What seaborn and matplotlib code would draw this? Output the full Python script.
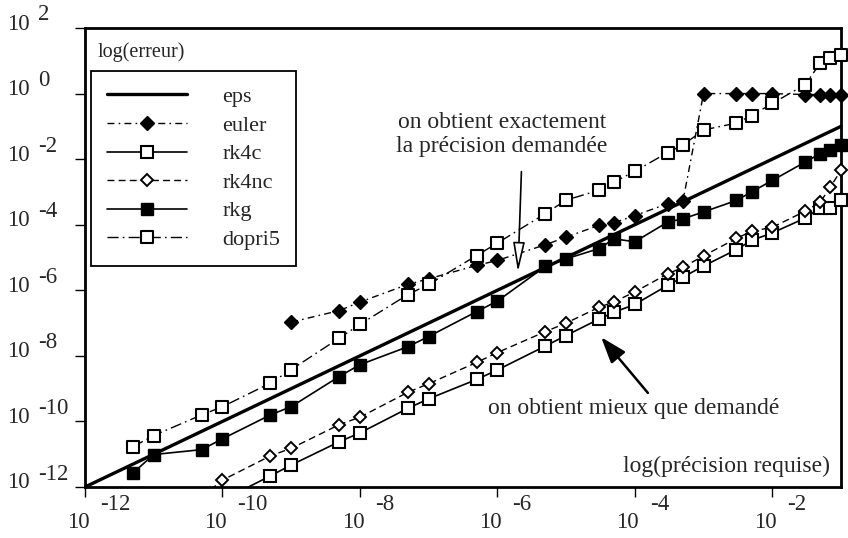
import matplotlib
matplotlib.use("Agg")
import matplotlib.pyplot as plt
from matplotlib import transforms
from matplotlib.path import Path
from matplotlib.transforms import Bbox, TransformedBbox
import seaborn as sns

# requested precision (x) shared by all solvers
tolerance = [5e-12, 1e-11, 5e-11, 1e-10, 5e-10, 1e-9, 5e-9, 1e-8, 5e-8, 1e-7,
             5e-7, 1e-6, 5e-6, 1e-5, 3e-5, 5e-5, 1e-4, 3e-4, 5e-4, 1e-3,
             3e-3, 5e-3, 1e-2, 3e-2, 5e-2, 7e-2, 1e-1]

# reference line: error equal to the requested precision
eps_x = [1e-12, 1e-1]
eps_y = [1e-12, 1e-1]

# log10 of the obtained error for each solver
log_err_euler = [-6.97, -6.62, -6.36, -5.82, -5.65, -5.24, -5.09, -4.61, -4.38,
                 -4.02, -3.94, -3.72, -3.36, -3.29, 0.0, 0.0, 0.0, 0.0,
                 -0.03, -0.03, -0.03, -0.03]
log_err_rk4c = [-12.4, -11.66, -11.33, -10.62, -10.35, -9.60, -9.31, -8.72,
                -8.43, -7.70, -7.38, -6.88, -6.67, -6.43, -5.85, -5.60, -5.26,
                -4.76, -4.48, -4.25, -3.80, -3.49, -3.50, -3.25]
log_err_rk4nc = [-12.3, -11.79, -11.05, -10.82, -10.10, -9.87, -9.11, -8.85,
                 -8.20, -7.90, -7.26, -7.00, -6.52, -6.35, -6.05, -5.50, -5.30,
                 -4.95, -4.42, -4.20, -4.08, -3.59, -3.31, -2.85, -2.34]
log_err_rkg = [-11.57, -11.01, -10.86, -10.53, -9.80, -9.55, -8.63, -8.27,
               -7.72, -7.41, -6.65, -6.33, -5.27, -5.04, -4.73, -4.43, -4.52,
               -3.92, -3.82, -3.61, -3.26, -3.00, -2.65, -2.09, -1.83, -1.73,
               -1.58]
log_err_dopri5 = [-10.77, -10.43, -9.80, -9.55, -8.83, -8.42, -7.46, -7.04,
                  -6.13, -5.82, -4.94, -4.56, -3.66, -3.25, -2.95, -2.70, -2.37,
                  -1.80, -1.57, -1.11, -0.90, -0.67, -0.30, 0.27, 0.93, 1.08,
                  1.19]

series_labels = ["eps", "euler", "rk4c", "rk4nc", "rkg", "dopri5"]
x_tick_exponents = ["-12", "-10", "-8", "-6", "-4", "-2"]
y_tick_exponents = ["2", "0", "-2", "-4", "-6", "-8", "-10", "-12"]

sns.set_style("ticks")
plt.rcParams["font.family"] = ["Liberation Serif", "DejaVu Serif"]

fig = plt.figure(figsize=(8.48, 5.38), dpi=100)
ax = fig.add_axes([85 / 848, 51 / 538, 756 / 848, 459 / 538])
ax.set_xscale("log")
ax.set_yscale("log")

# open square with a small dot in the centre
sq = [(-1, -1), (1, -1), (1, 1), (-1, 1), (-1, -1)]
dot = [(-0.04, -0.04), (-0.04, 0.04), (0.04, 0.04), (0.04, -0.04), (-0.04, -0.04)]
codes = [Path.MOVETO, Path.LINETO, Path.LINETO, Path.LINETO, Path.CLOSEPOLY]
dotted_square = Path(sq + dot, codes * 2)

clip = TransformedBbox(Bbox([[0, 0], [1.03, 1.03]]), ax.transAxes)


def draw(x, y, label, **kw):
    sns.lineplot(x=x, y=y, ax=ax, color="black", label=label, errorbar=None,
                 sort=False, markeredgecolor="black", **kw)
    line = ax.lines[-1]
    line.set_clip_box(clip)
    return line


def pow10(values):
    return [10.0 ** v for v in values]


draw(eps_x, eps_y, series_labels[0], lw=2.4, zorder=3)
draw(tolerance[5:], pow10(log_err_euler), series_labels[1], lw=1.0,
     linestyle=(0, (5, 3, 1.2, 3)), marker="D", markersize=7,
     markerfacecolor="black", markeredgewidth=1.0, zorder=4)
draw(tolerance[3:], pow10(log_err_rk4c), series_labels[2], lw=1.2,
     linestyle="-", marker="s", markersize=8, markerfacecolor="white",
     markeredgewidth=1.5, zorder=4)
draw(tolerance[2:], pow10(log_err_rk4nc), series_labels[3], lw=1.0,
     linestyle=(0, (5, 3)), marker="D", markersize=6.5,
     markerfacecolor="white", markeredgewidth=1.4, zorder=4)
draw(tolerance, pow10(log_err_rkg), series_labels[4], lw=1.2,
     linestyle="-", marker="s", markersize=8, markerfacecolor="black",
     markeredgewidth=1.0, zorder=4)
draw(tolerance, pow10(log_err_dopri5), series_labels[5], lw=1.0,
     linestyle=(0, (8, 3, 1.2, 3)), marker=dotted_square, markersize=8,
     markerfacecolor="white", markeredgewidth=1.5, zorder=4)

ax.set_xlim(1e-12, 1e-1)
ax.set_ylim(1e-12, 1e2)
ax.set_xlabel("")
ax.set_ylabel("")

for side in ["left", "right", "top", "bottom"]:
    ax.spines[side].set_visible(True)
    ax.spines[side].set_linewidth(2.0)
    ax.spines[side].set_color("black")

ax.set_xticks([10.0 ** int(e) for e in x_tick_exponents])
ax.set_yticks([10.0 ** int(e) for e in y_tick_exponents])
ax.minorticks_off()
ax.tick_params(axis="both", which="major", direction="out", length=7,
               width=1.0, color="black", labelbottom=False, labelleft=False)

# tick labels: "10" with the exponent set apart
fs_tick = 16.5
for e in x_tick_exponents:
    xv = 10.0 ** int(e)
    t_base = ax.get_xaxis_transform() + transforms.ScaledTranslation(
        -7 / 100, -36 / 100, fig.dpi_scale_trans)
    ax.text(xv, 0, "10", transform=t_base, ha="center", va="center",
            fontsize=fs_tick)
    t_exp = ax.get_xaxis_transform() + transforms.ScaledTranslation(
        15 / 100, -18 / 100, fig.dpi_scale_trans)
    ax.text(xv, 0, e, transform=t_exp, ha="left", va="center",
            fontsize=fs_tick)

ytrans = transforms.blended_transform_factory(fig.transFigure, ax.transData)
for e in y_tick_exponents:
    yv = 10.0 ** int(e)
    t_base = ytrans + transforms.ScaledTranslation(0, 4 / 100, fig.dpi_scale_trans)
    ax.text(7 / 848, yv, "10", transform=t_base, ha="left", va="center",
            fontsize=fs_tick, clip_on=False)
    t_exp = ytrans + transforms.ScaledTranslation(0, 13 / 100, fig.dpi_scale_trans)
    ax.text(38 / 848, yv, e, transform=t_exp, ha="left", va="center",
            fontsize=fs_tick, clip_on=False)

# axis titles placed inside the frame
ax.text(0.016, 0.948, "log(erreur)", transform=ax.transAxes, ha="left",
        va="center", fontsize=14.5)
ax.text(0.985, 0.044, "log(précision requise)", transform=ax.transAxes,
        ha="right", va="center", fontsize=17)

leg = ax.legend(loc="upper left", bbox_to_anchor=(0.008, 0.906),
                fontsize=16, frameon=True, fancybox=False, framealpha=1,
                edgecolor="black", handlelength=3.6, handletextpad=1.6,
                labelspacing=0.36, borderpad=0.7, borderaxespad=0)
leg.get_frame().set_linewidth(1.3)
leg.set_zorder(10)

# commentary arrows
ax.annotate("", xy=(10 ** -5.70, 10 ** -5.44), xytext=(10 ** -5.65, 10 ** -2.38),
            arrowprops=dict(arrowstyle="-|>,head_length=0.9,head_width=0.18",
                            fc="white", ec="black", lw=1.2, shrinkA=0,
                            shrinkB=0, mutation_scale=20), zorder=6)
ax.text(10 ** -5.93, 10 ** -1.25, "on obtient exactement\nla précision demandée",
        ha="center", va="center", fontsize=17, linespacing=1.2)

ax.annotate("", xy=(10 ** -4.49, 10 ** -7.43), xytext=(10 ** -3.81, 10 ** -9.13),
            arrowprops=dict(arrowstyle="-|>,head_length=0.8,head_width=0.28",
                            fc="black", ec="black", lw=1.8, shrinkA=0,
                            shrinkB=0, mutation_scale=20), zorder=6)
ax.text(10 ** -4.01, 10 ** -9.62, "on obtient mieux que demandé",
        ha="center", va="center", fontsize=17)

fig.savefig("out.png", dpi=100)
